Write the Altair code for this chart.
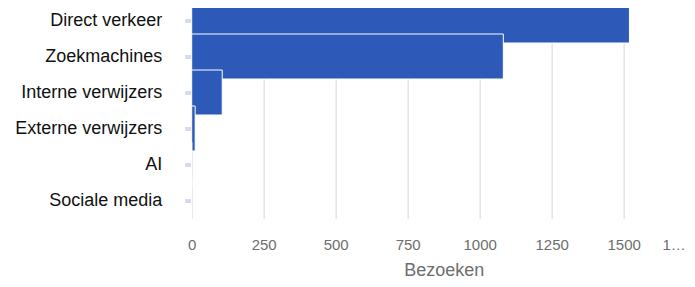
import altair as alt
import pandas as pd

categories = ["Direct verkeer", "Zoekmachines", "Interne verwijzers",
              "Externe verwijzers", "AI", "Sociale media"]
visits = [1520, 1082, 106, 12, 0, 0]
x_ticks = [0, 250, 500, 750, 1000, 1250, 1500, 1750]

df = pd.DataFrame({"bron": categories, "bezoeken": visits})

chart = alt.Chart(df).mark_bar(
    size=45, color="#2D5AB8", stroke="white", strokeWidth=1
).encode(
    y=alt.Y("bron:N", sort=categories, title=None,
            scale=alt.Scale(paddingInner=0, paddingOuter=0),
            axis=alt.Axis(labelFont="Liberation Sans", labelFontSize=18,
                          labelColor="#111111", labelPadding=23,
                          tickSize=7, tickWidth=4, tickColor="#D3DBEC",
                          domainColor="#D5DDEE", domainWidth=1,
                          grid=False, labelLimit=300)),
    x=alt.X("bezoeken:Q", title="Bezoeken",
            scale=alt.Scale(domain=[0, 1750], range=[0, 504], nice=False),
            axis=alt.Axis(values=x_ticks, grid=True, gridColor="#E4E4E4",
                          gridWidth=1.5, domain=False, ticks=False, tickSize=0,
                          format="d", labelFlush=False,
                          labelFont="Liberation Sans", labelFontSize=15,
                          labelColor="#6E6E6E", labelPadding=19,
                          labelExpr="datum.value == 1750 ? '1…' : datum.label",
                          labelOffset={"condition": {"test": "datum.value == 1750", "value": -22}, "value": 0},
                          titleFont="Liberation Sans", titleFontSize=18,
                          titleFontWeight="normal", titleColor="#6E6E6E",
                          titleX=252, titlePadding=9)),
).properties(
    width=495, height=216,
    autosize=alt.AutoSizeParams(type="none"),
    padding={"left": 183.7, "top": -5.5, "right": 0.3, "bottom": 60.5},
).configure_view(stroke=None)

chart.save("out.html", embed_options={"renderer": "svg", "actions": False})
